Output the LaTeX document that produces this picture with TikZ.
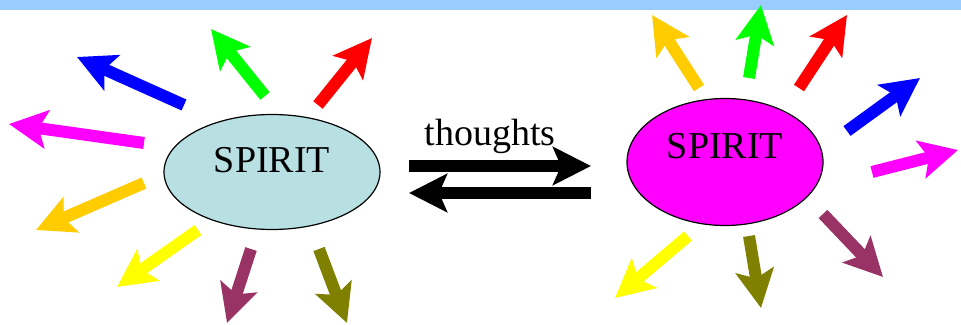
\documentclass[tikz,border=0pt]{standalone}
\usepackage{fontspec}
\setmainfont{Liberation Serif}
\usetikzlibrary{arrows.meta,shapes.geometric}
\definecolor{bandblue}{HTML}{99CCFF}
\definecolor{spiritcyan}{HTML}{B8E0E3}
\definecolor{raymagenta}{HTML}{FF00FF}
\definecolor{rayblue}{HTML}{0000FF}
\definecolor{raygreen}{HTML}{00FF00}
\definecolor{rayred}{HTML}{FF0000}
\definecolor{rayyellow}{HTML}{FFFF00}
\definecolor{rayorange}{HTML}{FFCC00}
\definecolor{rayplum}{HTML}{993366}
\definecolor{rayolive}{HTML}{808000}
\begin{document}
\begin{tikzpicture}[x=1pt,y=-1pt,
	ray/.style={line width=12pt,-{Stealth[length=38pt,width=38pt,inset=8pt]}},
	spirit/.style={ellipse,draw,line width=1.2pt,inner sep=0pt},
	big/.style={font=\fontsize{38}{46}\selectfont}]
	\useasboundingbox (0,0) rectangle (961,324);
	% top band
	\fill[bandblue] (0,0) rectangle (961,10);
	
	% left spirit
	\node[spirit,fill=spiritcyan,minimum width=216,minimum height=115] (spiritL) at (272,172) {};
	\node[big] (nameL) at ([yshift=12pt]spiritL.center) {SPIRIT};
	\foreach \tx/\ty/\hx/\hy/\col [count=\i] in {
		184/105/77/57/rayblue, 265/96/211/29/raygreen, 318/105/372/38/rayred,
		144/143/9/124/raymagenta, 144/183/36/230/rayorange, 198/230/117/287/rayyellow,
		251/249/227/323/rayplum, 319/249/347/323/rayolive}
	{
		\coordinate (lt\i) at (\tx,\ty);
		\coordinate (lh\i) at (\hx,\hy);
		\draw[ray,\col] (lt\i) -- (lh\i);
	}
	
	% right spirit
	\node[spirit,fill=raymagenta,minimum width=196,minimum height=127] (spiritR) at (725,162) {};
	\node[big] (nameR) at ([yshift=16pt]spiritR.center) {SPIRIT};
	\foreach \tx/\ty/\hx/\hy/\col [count=\i] in {
		699/88/652/15/rayorange, 749/78/761/5/raygreen, 799/88/847/15/rayred,
		847/131/920/78/rayblue, 872/172/958/150/raymagenta, 823/214/883/277/rayplum,
		749/236/761/308/rayolive, 688/236/615/298/rayyellow}
	{
		\coordinate (rt\i) at (\tx,\ty);
		\coordinate (rh\i) at (\hx,\hy);
		\draw[ray,\col] (rt\i) -- (rh\i);
	}
	
	% exchange of thoughts
	\coordinate (fwdA) at (409,166);
	\coordinate (fwdB) at (591,166);
	\coordinate (backA) at (591,193);
	\coordinate (backB) at (409,193);
	\draw[ray,black] (fwdA) -- (fwdB);
	\draw[ray,black] (backA) -- (backB);
	\node[big,anchor=base] (thoughts) at (490,145) {thoughts};
\end{tikzpicture}
\end{document}
